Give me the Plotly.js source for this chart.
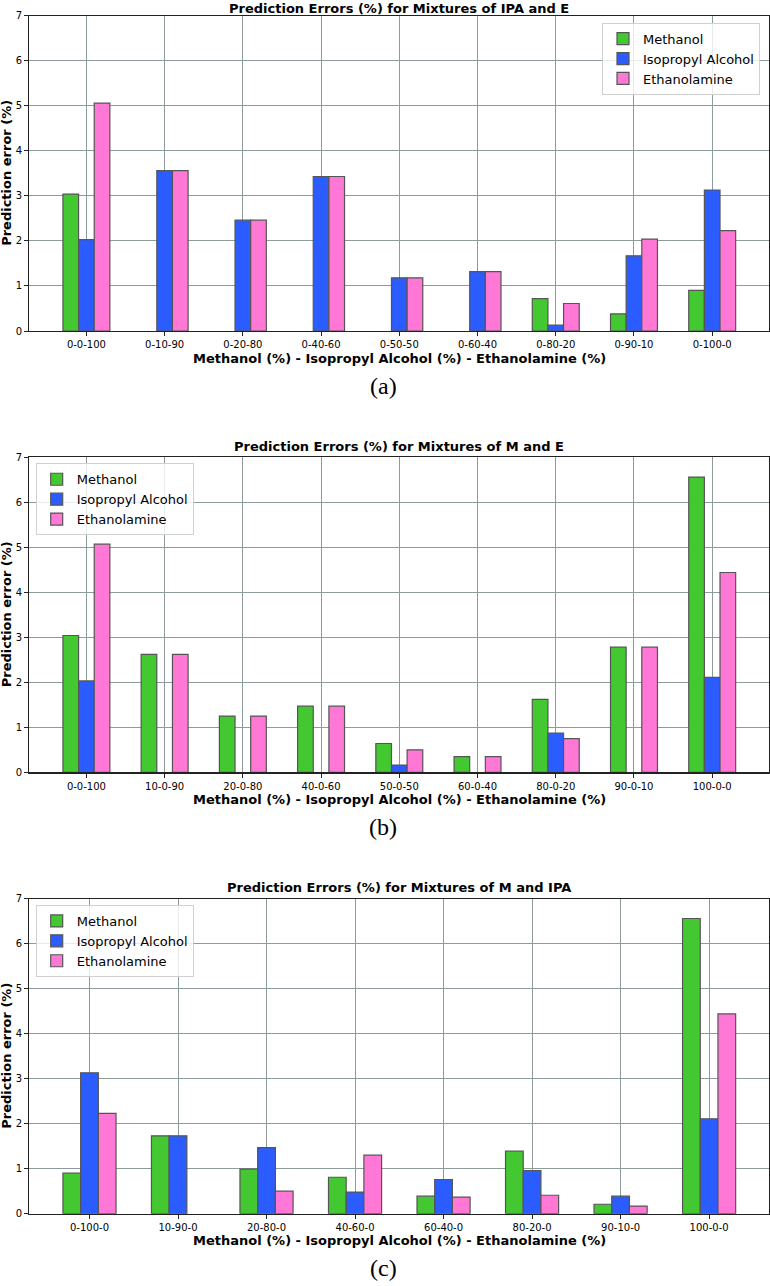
<!DOCTYPE html>
<html>
<head>
<meta charset="utf-8">
<script src="https://cdn.plot.ly/plotly-3.0.1.min.js"></script>
<style>
  html, body { margin: 0; padding: 0; background: #fff; }
  #chart { width: 770px; height: 1286px; }
</style>
</head>
<body>
<div id="chart"></div>
<script>
// (a) mixtures of IPA and E  (null = component not in mixture, no bar drawn)
var catsA = ['0-0-100', '0-10-90', '0-20-80', '0-40-60', '0-50-50', '0-60-40', '0-80-20', '0-90-10', '0-100-0'];
var methA = [3.04, null, null, null, null, null, 0.72, 0.38, 0.90];
var ipaA  = [2.03, 3.56, 2.46, 3.43, 1.18, 1.32, 0.13, 1.67, 3.13];
var ethA  = [5.06, 3.56, 2.46, 3.43, 1.18, 1.32, 0.61, 2.04, 2.23];

// (b) mixtures of M and E
var catsB = ['0-0-100', '10-0-90', '20-0-80', '40-0-60', '50-0-50', '60-0-40', '80-0-20', '90-0-10', '100-0-0'];
var methB = [3.04, 2.62, 1.25, 1.47, 0.64, 0.35, 1.62, 2.78, 6.56];
var ipaB  = [2.03, null, null, null, 0.16, null, 0.87, null, 2.11];
var ethB  = [5.07, 2.62, 1.25, 1.47, 0.50, 0.35, 0.75, 2.78, 4.44];

// (c) mixtures of M and IPA
var catsC = ['0-100-0', '10-90-0', '20-80-0', '40-60-0', '60-40-0', '80-20-0', '90-10-0', '100-0-0'];
var methC = [0.90, 1.73, 0.99, 0.81, 0.39, 1.39, 0.21, 6.56];
var ipaC  = [3.13, 1.73, 1.47, 0.48, 0.76, 0.96, 0.39, 2.11];
var ethC  = [2.23, null, 0.50, 1.30, 0.37, 0.41, 0.17, 4.44];

var seriesNames = ['Methanol', 'Isopropyl Alcohol', 'Ethanolamine'];
var seriesColors = ['#44c832', '#2b5cff', '#ff78d6'];

var W = 770, H = 1286;
function px(p) { return p / W; }
function py(p) { return 1 - p / H; }

// plot boxes in pixels (top, bottom)
var boxes = [[15.7, 331], [457.3, 772.3], [898.7, 1213.7]];
var left = 29.3, right = 769.3;

function bar(name, cats, vals, color, n, leg) {
  return {
    type: 'bar',
    name: name,
    x: cats,
    y: vals,
    xaxis: n == 1 ? 'x' : 'x' + n,
    yaxis: n == 1 ? 'y' : 'y' + n,
    legend: leg,
    marker: { color: color, line: { color: '#555555', width: 1.2 } },
    hoverinfo: 'x+y+name'
  };
}

var panels = [
  { cats: catsA, vals: [methA, ipaA, ethA], title: 'Prediction Errors (%) for Mixtures of IPA and E', cap: '(a)' },
  { cats: catsB, vals: [methB, ipaB, ethB], title: 'Prediction Errors (%) for Mixtures of M and E', cap: '(b)' },
  { cats: catsC, vals: [methC, ipaC, ethC], title: 'Prediction Errors (%) for Mixtures of M and IPA', cap: '(c)' }
];

var data = [];
var layout = {
  width: W, height: H,
  margin: { l: 0, r: 0, t: 0, b: 0 },
  paper_bgcolor: '#fff', plot_bgcolor: '#fff',
  font: { family: 'DejaVu Sans, sans-serif', color: '#000' },
  barmode: 'group', bargap: 0.4, bargroupgap: 0,
  showlegend: true,
  annotations: []
};

var legendPos = [[602, 22.7], [35.7, 463.3], [35.7, 905]];

panels.forEach(function (p, i) {
  var n = i + 1;
  var leg = n == 1 ? 'legend' : 'legend' + n;
  for (var s = 0; s < 3; s++) {
    data.push(bar(seriesNames[s], p.cats, p.vals[s], seriesColors[s], n, leg));
  }
  var top = boxes[i][0], bot = boxes[i][1];
  var nc = p.cats.length;
  var pad = (nc - 1 + 0.6) * 0.05 + 0.3;
  var xa = {
    domain: [px(left), px(right)],
    anchor: n == 1 ? 'y' : 'y' + n,
    type: 'category',
    range: [-pad, nc - 1 + pad],
    showgrid: true, gridcolor: '#8c9c9c', gridwidth: 1,
    showline: true, linecolor: '#222', linewidth: 1.2, mirror: true,
    ticks: 'outside', ticklen: 4, tickcolor: '#222',
    tickfont: { size: 10, color: '#000' },
    zeroline: false, fixedrange: true
  };
  var ya = {
    domain: [py(bot), py(top)],
    anchor: n == 1 ? 'x' : 'x' + n,
    range: [0, 7], tickvals: [0, 1, 2, 3, 4, 5, 6, 7],
    showgrid: true, gridcolor: '#8c9c9c', gridwidth: 1,
    showline: true, linecolor: '#222', linewidth: 1.2, mirror: true,
    ticks: 'outside', ticklen: 4, tickcolor: '#222',
    tickfont: { size: 10, color: '#000' },
    zeroline: false, fixedrange: true
  };
  layout[n == 1 ? 'xaxis' : 'xaxis' + n] = xa;
  layout[n == 1 ? 'yaxis' : 'yaxis' + n] = ya;
  layout[leg] = {
    x: px(legendPos[i][0]), y: py(legendPos[i][1]),
    xanchor: 'left', yanchor: 'top',
    bgcolor: 'rgba(255,255,255,0.8)', bordercolor: '#d0d0d0', borderwidth: 1,
    font: { size: 13, color: '#000' },
    tracegroupgap: 0
  };
  var cx = px((left + right) / 2);
  // first title sits against the top edge, so pin it there
  var tAnn = i == 0
    ? { y: py(0), yanchor: 'top' }
    : { y: py(top - 2.5), yanchor: 'bottom' };
  layout.annotations.push(
    { text: '<b>' + p.title + '</b>', xref: 'paper', yref: 'paper', x: cx, y: tAnn.y,
      xanchor: 'center', yanchor: tAnn.yanchor, borderpad: 0, showarrow: false, font: { size: 13 } },
    { text: '<b>Methanol (%) - Isopropyl Alcohol (%) - Ethanolamine (%)</b>', xref: 'paper', yref: 'paper',
      x: cx, y: py(bot + 27), xanchor: 'center', yanchor: 'middle', showarrow: false, font: { size: 13 } },
    { text: '<b>Prediction error (%)</b>', xref: 'paper', yref: 'paper', x: px(6.5), y: py((top + bot) / 2),
      xanchor: 'center', yanchor: 'middle', textangle: -90, showarrow: false, font: { size: 13 } },
    { text: p.cap, xref: 'paper', yref: 'paper', x: px(383), y: py(bot + 54.5),
      xanchor: 'center', yanchor: 'middle', showarrow: false,
      font: { size: 24, family: 'Liberation Serif, DejaVu Serif, serif' } }
  );
});

Plotly.newPlot('chart', data, layout, { displayModeBar: false, staticPlot: true });
</script>
</body>
</html>
